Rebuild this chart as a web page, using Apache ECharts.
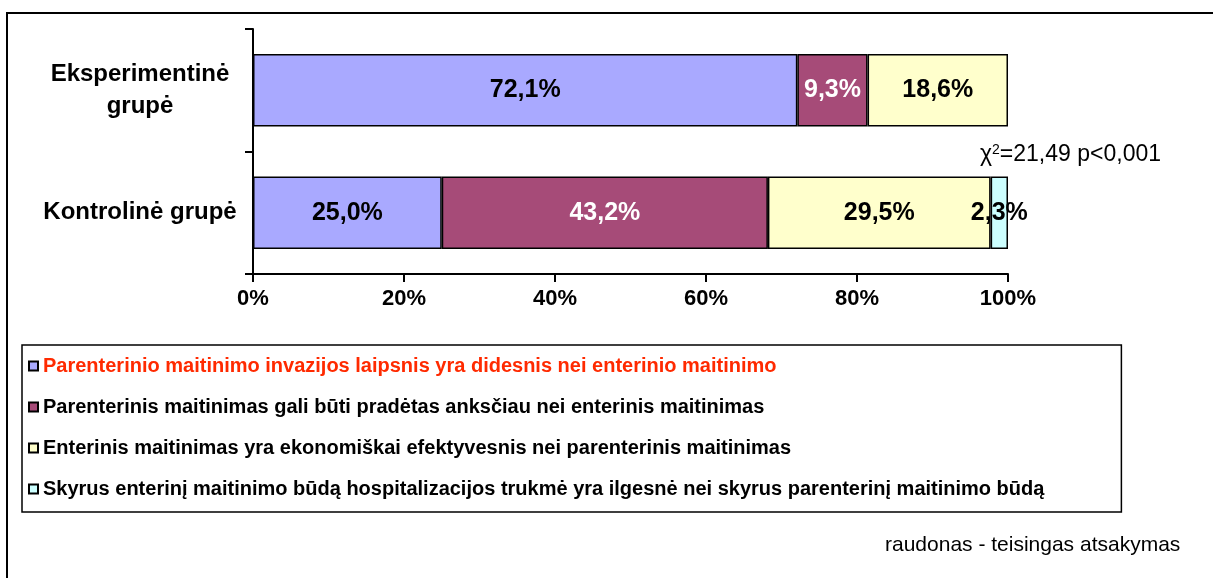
<!DOCTYPE html>
<html lang="lt" style="height: 100%">
<head>
  <meta charset="utf-8">
  <style>
    html, body { margin: 0; padding: 0; width: 100%; height: 100%; overflow: hidden; background: #fff; }
  </style>
</head>
<body>
  <div id="container" style="width: 1213px; height: 578px;"></div>
  <script src="https://cdn.jsdelivr.net/npm/echarts@6/dist/echarts.min.js"></script>
  <script>
    // grupės (apačia -> viršus)
    const groups = ['Kontrolinė grupė', 'Eksperimentinė grupė'];
    const answers = [
      'Parenterinio maitinimo invazijos laipsnis yra didesnis nei enterinio maitinimo',
      'Parenterinis maitinimas gali būti pradėtas anksčiau nei enterinis maitinimas',
      'Enterinis maitinimas yra ekonomiškai efektyvesnis nei parenterinis maitinimas',
      'Skyrus enterinį maitinimo būdą hospitalizacijos trukmė yra ilgesnė nei skyrus parenterinį maitinimo būdą'
    ];
    // procentai: [kontrolinė, eksperimentinė]
    const ans1 = [25.0, 72.1];
    const ans2 = [43.2, 9.3];
    const ans3 = [29.5, 18.6];
    const ans4 = [2.3, null];
    const colors = ['#A9A9FF', '#A64B78', '#FFFFCC', '#CCFFFF'];
    const labelColors = ['#000', '#fff', '#000', '#000'];

    const dom = document.getElementById('container');
    const myChart = echarts.init(dom, null, { renderer: 'canvas' });
    const font = 'Liberation Sans, Arial, sans-serif';

    const fmt = (p) => p.value == null ? '' : p.value.toFixed(1).replace('.', ',') + '%';

    const series = [ans1, ans2, ans3, ans4].map((d, i) => ({
      name: answers[i],
      type: 'bar',
      stack: 'all',
      data: d,
      barCategoryGap: '41%',
      itemStyle: { color: colors[i], borderColor: '#000', borderWidth: 1.5 },
      label: {
        show: true,
        position: 'inside',
        formatter: fmt,
        color: labelColors[i],
        fontFamily: font,
        fontWeight: 'bold',
        fontSize: 25
      },
      animation: false
    }));

    const option = {
      animation: false,
      textStyle: { fontFamily: font },
      grid: { left: 253, right: 205, top: 29, height: 245 },
      xAxis: {
        type: 'value',
        min: 0,
        max: 100,
        interval: 20,
        splitLine: { show: false },
        axisLine: { show: true, lineStyle: { color: '#000', width: 2 } },
        axisTick: { show: true, length: 8, lineStyle: { color: '#000', width: 2 } },
        axisLabel: {
          formatter: '{value}%', color: '#000', fontWeight: 'bold', fontSize: 22,
          fontFamily: font, margin: 14
        }
      },
      yAxis: {
        type: 'category',
        data: groups,
        axisLine: { show: true, lineStyle: { color: '#000', width: 2 } },
        axisTick: { show: true, length: 8, lineStyle: { color: '#000', width: 2 } },
        axisLabel: {
          color: '#000', fontWeight: 'bold', fontSize: 24, fontFamily: font,
          align: 'center', margin: 113, lineHeight: 32,
          formatter: (v) => v === 'Eksperimentinė grupė' ? 'Eksperimentinė\ngrupė' : v
        }
      },
      legend: {
        orient: 'vertical',
        left: 22,
        top: 345,
        padding: [11, 77, 13, 6],
        borderColor: '#000',
        borderWidth: 1.5,
        icon: 'rect',
        itemWidth: 9,
        itemHeight: 9,
        itemGap: 21,
        selectedMode: false,
        textStyle: { color: '#000', fontWeight: 'bold', fontSize: 20, fontFamily: font, lineHeight: 20 },
        data: answers.map((n, i) => i === 0
          ? { name: n, textStyle: { color: '#FF2A00' } }
          : { name: n })
      },
      graphic: [
        {
          type: 'rect', silent: true,
          shape: { x: 7, y: 13, width: 1230, height: 620 },
          style: { fill: 'none', stroke: '#000', lineWidth: 2 }
        },
        {
          type: 'text', left: 980, top: 143, silent: true,
          style: {
            text: '{a|χ}{s|2}{a|=21,49 p<0,001}',
            rich: {
              a: { fontSize: 23, fontFamily: font, fill: '#000' },
              s: { fontSize: 14, fontFamily: font, fill: '#000', verticalAlign: 'top', padding: [0, 0, 10, 0] }
            }
          }
        },
        {
          type: 'text', left: 885, top: 535, silent: true,
          style: { text: 'raudonas - teisingas atsakymas', fontSize: 21, fontFamily: font, fill: '#000' }
        }
      ],
      series: series
    };
    myChart.setOption(option);
    window.addEventListener('resize', myChart.resize);
  </script>
</body>
</html>
